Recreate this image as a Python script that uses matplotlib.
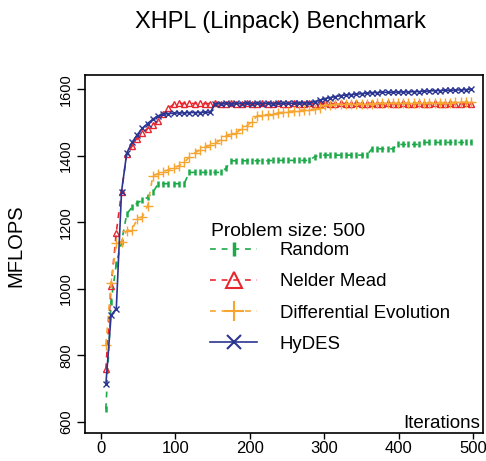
import matplotlib
matplotlib.use('Agg')
import matplotlib.pyplot as plt
from matplotlib.lines import Line2D

plt.rcParams['font.family'] = ['Liberation Sans', 'DejaVu Sans']

# iterations sampled every 7 steps
iterations = list(range(7, 498, 7))

random_vals = [638, 960, 1075, 1140, 1225, 1245, 1258, 1266, 1275, 1290,
               1315, 1316, 1316, 1316, 1316, 1316,
               1350, 1350, 1350, 1350, 1350, 1350, 1350,
               1362,
               1385, 1385, 1385, 1385, 1385, 1385, 1385, 1385,
               1386, 1386, 1386, 1386, 1386, 1386, 1386, 1386,
               1397,
               1402, 1402, 1402, 1402, 1402, 1402, 1402, 1402, 1402, 1402,
               1421, 1421, 1421, 1421, 1421,
               1434, 1434, 1434, 1434, 1434,
               1440, 1440, 1440, 1440, 1440, 1440, 1440, 1440, 1440, 1440]

nelder_mead = [758, 1007, 1169, 1292, 1405, 1428, 1450, 1470, 1482, 1492,
               1505, 1527, 1543, 1555,
               1558, 1557, 1558, 1557, 1558, 1557, 1557, 1558, 1557, 1557,
               1558, 1557, 1557, 1558, 1557, 1557, 1558, 1557, 1557, 1558,
               1557, 1557, 1558, 1557, 1557, 1558, 1557, 1557, 1558, 1557,
               1557, 1558, 1557, 1557, 1558, 1557, 1557, 1558, 1557, 1557,
               1558, 1557, 1557, 1558, 1557, 1557, 1558, 1557, 1557, 1558,
               1557, 1557, 1558, 1557, 1557, 1558, 1557]

diff_evol = [831, 1018, 1138, 1142, 1175, 1178, 1209, 1217, 1249, 1340,
             1346, 1352, 1358, 1364, 1370, 1380, 1396, 1408, 1418, 1426,
             1432, 1438, 1448, 1459, 1465, 1470, 1480, 1490, 1503, 1520,
             1522, 1524, 1526, 1529, 1531, 1533, 1535, 1536, 1538, 1539,
             1541, 1543, 1552, 1554, 1555, 1556,
             1556, 1556, 1557, 1557, 1557, 1557, 1558, 1558, 1558, 1558,
             1558, 1559, 1559, 1559, 1559, 1559, 1560, 1560, 1560, 1560,
             1560, 1561, 1561, 1561, 1561]

hydes = [712, 920, 940, 1292, 1408, 1440, 1463, 1483, 1497, 1510,
         1520, 1525, 1527, 1528, 1529, 1529, 1530, 1530, 1530, 1531, 1531,
         1557, 1557, 1558, 1557, 1558, 1557, 1558, 1557, 1558, 1557,
         1558, 1557, 1558, 1558, 1558, 1558, 1559, 1559, 1559,
         1563, 1567, 1572, 1575, 1578, 1581, 1583, 1584, 1585, 1587,
         1588, 1590, 1590, 1591, 1591, 1591, 1592, 1592, 1592, 1593,
         1593, 1594, 1595, 1596, 1596, 1597, 1597, 1598, 1598, 1599, 1600]

labels = ['Random', 'Nelder Mead', 'Differential Evolution', 'HyDES']
colors = ['#1DAA4A', '#E8262E', '#F7A531', '#2B3592']

fig = plt.figure(figsize=(4.86, 4.61), dpi=100)
ax = fig.add_axes([85 / 486, 28 / 461, 398 / 486, 358 / 461])

dash = (0, (3.5, 3.5))
ax.plot(iterations, random_vals, color=colors[0], ls=dash, lw=1.2,
        marker='|', ms=5, mew=1.8)
ax.plot(iterations, nelder_mead, color=colors[1], ls=dash, lw=1.2,
        marker='^', ms=5, mfc='none', mew=1.0)
ax.plot(iterations, diff_evol, color=colors[2], ls=dash, lw=1.2,
        marker='+', ms=7, mew=1.0)
ax.plot(iterations, hydes, color=colors[3], ls='-', lw=1.2,
        marker='x', ms=4.5, mew=1.0)

ax.set_xlim(-21, 513)
ax.set_ylim(566, 1643)
ax.set_xticks([0, 100, 200, 300, 400, 500])
ax.set_yticks([600, 800, 1000, 1200, 1400, 1600])
ax.tick_params(axis='x', length=4.5, width=1, labelsize=12, pad=1)
ax.tick_params(axis='y', length=5.5, width=1, labelsize=10.5, pad=3)
for t in ax.get_yticklabels():
    t.set_rotation(90)
    t.set_va('center')
for s in ax.spines.values():
    s.set_linewidth(1.2)

ax.text(0.992, 0.014, 'Iterations', transform=ax.transAxes, ha='right',
        va='baseline', fontsize=13.5)

# legend (title drawn as its own text, like R's legend title)
handles = [
    Line2D([], [], color=colors[0], ls=dash, lw=1.2, marker='|', ms=10, mew=2.5),
    Line2D([], [], color=colors[1], ls=dash, lw=1.2, marker='^', ms=11, mfc='none', mew=1.5),
    Line2D([], [], color=colors[2], ls=dash, lw=1.2, marker='+', ms=14, mew=1.5),
    Line2D([], [], color=colors[3], ls='-', lw=1.2, marker='x', ms=10, mew=1.5),
]
ax.legend(handles, labels, loc='upper left', bbox_to_anchor=(0.314, 0.533),
          frameon=False, fontsize=13.4, handlelength=2.55, handletextpad=1.2,
          labelspacing=0.76, borderpad=0, borderaxespad=0)
ax.text(0.3166, 0.550, 'Problem size: 500', transform=ax.transAxes,
        ha='left', va='baseline', fontsize=13.9)

fig.text(280 / 486, 1 - 28 / 461, 'XHPL (Linpack) Benchmark', ha='center',
         va='baseline', fontsize=17)
fig.text(16 / 486, 1 - 246 / 461, 'MFLOPS', ha='center', va='center',
         rotation=90, fontsize=14.5)

fig.savefig('out.png', dpi=100)
